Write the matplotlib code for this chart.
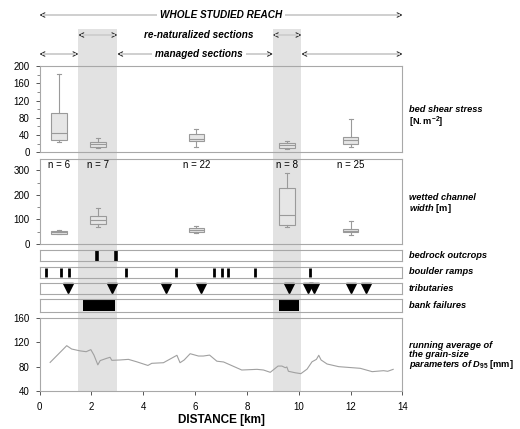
import matplotlib
matplotlib.use("Agg")
import matplotlib.pyplot as plt
import numpy as np

plt.rcParams['font.family'] = ['Liberation Sans', 'DejaVu Sans']
plt.rcParams['mathtext.fontset'] = 'custom'
plt.rcParams['mathtext.rm'] = 'Liberation Sans:bold'
plt.rcParams['mathtext.it'] = 'Liberation Sans:bold:italic'
plt.rcParams['mathtext.bf'] = 'Liberation Sans:bold'

# datos
box_pos = [0.75, 2.25, 6.05, 9.55, 12.0]
box_n = [6, 7, 22, 8, 25]

# bed shear stress [N.m-2]: whislo, q1, med, q3, whishi
shear_lo = [24, 9, 13, 7, 13]
shear_q1 = [28, 12, 26, 9, 19]
shear_med = [45, 18.5, 31, 16, 28.5]
shear_q3 = [90, 23, 42, 22, 36]
shear_hi = [181, 33, 55, 26, 78]

# wetted channel width [m]
width_lo = [39, 68, 43, 70, 36]
width_q1 = [42, 80, 49, 77, 47]
width_med = [50, 97, 55, 120, 54]
width_q3 = [54, 113, 64, 226, 61]
width_hi = [57, 145, 72, 290, 95]

bedrock = [2.23, 2.94]
boulder = [0.24, 0.84, 1.14, 3.33, 5.26, 6.72, 7.03, 7.28, 8.32, 10.44]
tributaries = [1.11, 2.79, 4.88, 6.24, 9.63, 10.34, 10.57, 12.02, 12.6]
bank_start = [1.69, 9.22]
bank_end = [2.9, 10.02]

renat_start = [1.5, 9.0]
renat_end = [3.0, 10.1]

d95_x = [0.41, 1.05, 1.24, 1.56, 1.8, 1.98, 2.1, 2.25, 2.34, 2.59, 2.72, 2.79,
         3.1, 3.43, 3.75, 4.18, 4.33, 4.78, 5.3, 5.42, 5.58, 5.81, 6.13, 6.32,
         6.56, 6.84, 7.1, 7.8, 8.39, 8.64, 8.9, 9.2, 9.35, 9.48, 9.54, 9.6,
         9.86, 10.08, 10.32, 10.51, 10.68, 10.77, 10.86, 11.09, 11.54, 12.37,
         12.83, 13.27, 13.43, 13.64]
d95_y = [87, 114.5, 109, 106, 104.6, 108, 99, 83, 90, 93.7, 95.4, 90.4,
         91, 92, 88, 82, 85.5, 86.5, 98.7, 86.5, 91, 101.3, 97.5, 97.5,
         99, 89, 87.7, 74.5, 75.6, 74.5, 70.7, 81, 81, 78.3, 79.5, 72.4,
         70, 68.5, 76, 88, 92, 98.7, 91, 84.4, 80, 77.3,
         71.8, 73.4, 72.4, 75.6]

W, H = 520, 429
L, R = 39.5, 402.5
KM = (R - L) / 14.0
shade = '#e2e2e2'
frame = '#a8a8a8'


def rect(top, bottom):
    return [L / W, 1 - bottom / H, (R - L) / W, (bottom - top) / H]


fig = plt.figure(figsize=(W / 100, H / 100), dpi=100)

# eje de fondo en pixeles para sombreado, flechas y etiquetas
bg = fig.add_axes([0, 0, 1, 1])
bg.set_xlim(-L / KM, (W - L) / KM)
bg.set_ylim(H, 0)
bg.axis('off')
bg.set_zorder(0)
for a, b in zip(renat_start, renat_end):
    bg.fill_between([a, b], 29, 391, color=shade, lw=0)


def arrow(x0, x1, y):
    bg.annotate('', xy=(x1, y), xytext=(x0, y),
                arrowprops=dict(arrowstyle='<->,head_length=0.3,head_width=0.16',
                                color='#333333', lw=0.8, shrinkA=0, shrinkB=0))
    bg.plot([x0 + 0.14, x1 - 0.14], [y, y], color='#d2d2d2', lw=1.4, zorder=5)


arrow(0, 14, 15)
bg.text(7.0, 15, 'WHOLE STUDIED REACH', ha='center', va='center', fontsize=7.2,
        fontweight='bold', style='italic', zorder=6,
        bbox=dict(facecolor='white', edgecolor='none', pad=2))
for a, b in zip(renat_start, renat_end):
    arrow(a, b, 35)
bg.text(6.15, 35, 're-naturalized sections', ha='center', va='center',
        fontsize=7.2, fontweight='bold', style='italic', zorder=6)
for a, b in zip([0] + renat_end, renat_start + [14]):
    arrow(a, b, 54)
bg.text(6.15, 54, 'managed sections', ha='center', va='center', fontsize=7.2,
        fontweight='bold', style='italic', zorder=6,
        bbox=dict(facecolor='white', edgecolor='none', pad=2))

lab = dict(fontsize=6.7, fontweight='bold', style='italic', ha='left', va='center')
xl = (409 - L) / KM
bg.text(xl, 110, 'bed shear stress', **lab)
bg.text(xl, 122, r'$\mathrm{[N.m^{-2}]}$', **lab)
bg.text(xl, 197.5, 'wetted channel', **lab)
bg.text(xl, 208.5, r'width $\mathrm{[m]}$', **lab)
bg.text(xl, 255, 'bedrock outcrops', **lab)
bg.text(xl, 272, 'boulder ramps', **lab)
bg.text(xl, 288.5, 'tributaries', **lab)
bg.text(xl, 305, 'bank failures', **lab)
bg.text(xl, 345, 'running average of', **lab)
bg.text(xl, 354.5, 'the grain-size', **lab)
bg.text(xl, 364.5, r'parameters of $D_{95}$ $\mathrm{[mm]}$', **lab)


def style(ax):
    ax.set_facecolor('none')
    ax.set_xlim(0, 14)
    for s in ax.spines.values():
        s.set_color(frame)
        s.set_linewidth(0.8)
    ax.tick_params(colors='#555555', labelcolor='black', labelsize=7, length=3,
                   width=0.7, pad=4)
    ax.tick_params(which='minor', length=2, width=0.6, colors='#777777')


def boxes(ax, lo, q1, med, q3, hi):
    stats = [dict(whislo=a, q1=b, med=c, q3=d, whishi=e, fliers=[])
             for a, b, c, d, e in zip(lo, q1, med, q3, hi)]
    ax.bxp(stats, positions=box_pos, widths=0.6, capwidths=0.15,
           patch_artist=True, manage_ticks=False,
           boxprops=dict(facecolor='#e6e6e6', edgecolor='#9a9a9a', lw=0.8),
           medianprops=dict(color='#9a9a9a', lw=0.8),
           whiskerprops=dict(color='#9a9a9a', lw=0.8),
           capprops=dict(color='#9a9a9a', lw=0.8))


ax1 = fig.add_axes(rect(66, 152.3))
style(ax1)
boxes(ax1, shear_lo, shear_q1, shear_med, shear_q3, shear_hi)
ax1.set_ylim(0, 200)
ax1.set_yticks(np.arange(0, 201, 40))
ax1.set_yticks(np.arange(20, 200, 40), minor=True)
ax1.set_xticks([])

ax2 = fig.add_axes(rect(158.5, 244))
style(ax2)
boxes(ax2, width_lo, width_q1, width_med, width_q3, width_hi)
ax2.set_ylim(0, 348)
ax2.set_yticks([0, 100, 200, 300])
ax2.set_yticks([50, 150, 250], minor=True)
ax2.set_xticks([])
for p, n in zip(box_pos, box_n):
    ax2.text(p, 322, 'n = %d' % n, ha='center', va='center', fontsize=7)


def track(top, bottom):
    ax = fig.add_axes(rect(top, bottom))
    style(ax)
    ax.set_ylim(0, 1)
    ax.set_xticks([])
    ax.set_yticks([])
    return ax


t1 = track(249.5, 260.5)
t1.vlines(bedrock, 0, 1, color='black', lw=2.6)
t2 = track(267, 278)
t2.vlines(boulder, 0.12, 0.9, color='black', lw=2.0)
t3 = track(283, 294)
t3.plot(tributaries, [0.55] * len(tributaries), 'v', color='black', ms=7, clip_on=False)
t4 = track(299, 311.7)
for a, b in zip(bank_start, bank_end):
    t4.fill_between([a, b], 0.04, 0.96, color='black', lw=0)

ax5 = fig.add_axes(rect(318, 391))
style(ax5)
ax5.plot(d95_x, d95_y, color='#a0a0a0', lw=0.8)
ax5.set_ylim(40, 160)
ax5.set_yticks([40, 80, 120, 160])
ax5.set_xticks(np.arange(0, 15, 2))
ax5.tick_params(axis='x', pad=5)
ax5.set_xlabel('DISTANCE [km]', fontsize=8.5, fontweight='bold', labelpad=1)

for ax in [ax1, ax2, t1, t2, t3, t4, ax5]:
    ax.set_zorder(1)

fig.savefig('out.png', dpi=100)
